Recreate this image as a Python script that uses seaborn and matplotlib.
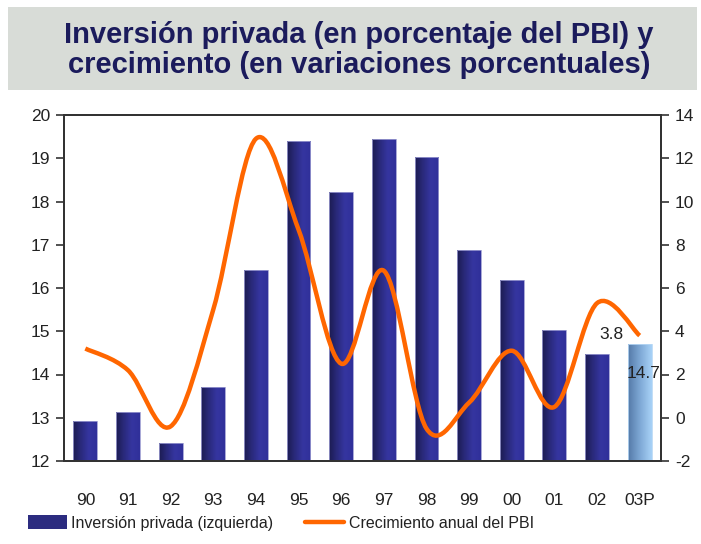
import numpy as np
import pandas as pd
import matplotlib
matplotlib.use("Agg")
import matplotlib.pyplot as plt
import seaborn as sns
from matplotlib.colors import LinearSegmentedColormap
from matplotlib.path import Path
from matplotlib.patches import PathPatch, Rectangle, Patch
from matplotlib.lines import Line2D

# datos
anios = ["90", "91", "92", "93", "94", "95", "96", "97", "98", "99", "00", "01", "02", "03P"]
inversion = [12.92, 13.13, 12.41, 13.72, 16.41, 19.40, 18.21, 19.45, 19.03, 16.87, 16.18, 15.03, 14.48, 14.7]
crecimiento = [3.2, 2.2, -0.4, 5.0, 12.9, 8.7, 2.5, 6.8, -0.5, 0.7, 3.1, 0.5, 5.3, 3.8]
titulo = "Inversión privada (en porcentaje del PBI) y\ncrecimiento (en variaciones porcentuales)"

sns.set_style("white")
plt.rcParams['font.family'] = ['Liberation Sans', 'DejaVu Sans']
plt.rcParams['axes.unicode_minus'] = False

df = pd.DataFrame({"anio": anios, "inv": inversion, "crec": crecimiento})

fig = plt.figure(figsize=(7.01, 5.44), dpi=100)
ax = fig.add_axes([64 / 701, 1 - 461 / 544, (661 - 64) / 701, (461 - 115) / 544])

# banda del titulo
fig.patches.append(Rectangle((8 / 701, 1 - 90 / 544), 689 / 701, 83 / 544,
                             transform=fig.transFigure, facecolor="#d8dcd7",
                             edgecolor="none", zorder=0))
fig.text(359 / 701, 1 - 50 / 544, titulo, ha="center", va="center",
         fontsize=21, fontweight="bold", color="#1b1b5c", linespacing=1.05)

sns.barplot(data=df, x="anio", y="inv", ax=ax, width=0.56, color="#2c2c80",
            edgecolor="#9a9ad0", linewidth=0.6, saturation=1)
ymin = 12
ax.set_ylim(ymin, 20)

# degradado en las barras
cm_osc = LinearSegmentedColormap.from_list("osc", ["#1c1c52", "#2a2a7c", "#3535a0", "#30309a"])
cm_cla = LinearSegmentedColormap.from_list("cla", ["#557aa8", "#7ea8d5", "#a8d2f7"])
grad = np.linspace(0, 1, 64).reshape(1, -1)
for i, bar in enumerate(ax.patches):
    x0 = bar.get_x()
    w, top = bar.get_width(), bar.get_y() + bar.get_height()
    cmap = cm_cla if anios[i] == "03P" else cm_osc
    bar.set_facecolor("none")
    if anios[i] == "03P":
        bar.set_edgecolor("#b8d8f5")
    im = ax.imshow(grad, cmap=cmap, aspect="auto", extent=[x0, x0 + w, ymin, top],
                   zorder=bar.get_zorder() - 0.1)
    im.set_clip_path(bar)
ax.set_xlim(-0.5, len(anios) - 0.5)
ax.set_ylim(ymin, 20)

# eje derecho: crecimiento con linea suavizada (tipo Excel)
ax2 = ax.twinx()
ax2.set_ylim(-2, 14)
xs = np.arange(len(crecimiento), dtype=float)
ys = np.array(crecimiento, dtype=float)
pts = np.column_stack([xs, ys])
verts = [pts[0]]
codes = [Path.MOVETO]
n = len(pts)
for i in range(n - 1):
    p0 = pts[i - 1] if i > 0 else pts[i]
    p1 = pts[i]
    p2 = pts[i + 1]
    p3 = pts[i + 2] if i + 2 < n else pts[i + 1]
    c1 = p1 + (p2 - p0) / 6
    c2 = p2 - (p3 - p1) / 6
    verts += [c1, c2, p2]
    codes += [Path.CURVE4] * 3
ax2.add_patch(PathPatch(Path(verts, codes), facecolor="none", edgecolor="#ff6600",
                        lw=3.2, capstyle="butt", joinstyle="round", zorder=3))

# etiquetas del ultimo dato
ax2.annotate(f"{crecimiento[-1]:.1f}", (xs[-1], ys[-1]), xytext=(-20, 1),
             textcoords="offset points", ha="center", va="center",
             fontsize=12.5, color="#222222")
ax.annotate(f"{inversion[-1]:.1f}", (xs[-1], inversion[-1]), xytext=(3, -21),
            textcoords="offset points", ha="center", va="center",
            fontsize=12.5, color="#222222")

# ejes
ax.set_yticks(range(12, 21))
ax2.set_yticks(range(-2, 15, 2))
ax.set_xlabel("")
ax.set_ylabel("")
for a in (ax, ax2):
    for s in a.spines.values():
        s.set_visible(True)
        s.set_color("#333333")
        s.set_linewidth(1.4)
ax.tick_params(axis="y", direction="out", length=6, width=1.2, color="#333333",
               labelsize=12.5, labelcolor="#222222", left=True, pad=4)
ax2.tick_params(axis="y", direction="out", length=6, width=1.2, color="#333333",
                labelsize=12.5, labelcolor="#222222", right=True, pad=4)
ax.tick_params(axis="x", length=0, labelsize=12.5, labelcolor="#222222", pad=23)

# leyenda
handles = [Patch(facecolor="#2c2c80", edgecolor="none"),
           Line2D([0], [0], color="#ff6600", lw=3.2)]
labels = ["Inversión privada (izquierda)", "Crecimiento anual del PBI"]
fig.legend(handles, labels, loc="center", bbox_to_anchor=(281 / 701, 1 - 523 / 544),
           ncol=2, frameon=False, fontsize=11.5, handlelength=2.4, handleheight=0.9,
           handletextpad=0.3, columnspacing=2.0, labelcolor="#222222")

fig.savefig("out.png", dpi=100)
